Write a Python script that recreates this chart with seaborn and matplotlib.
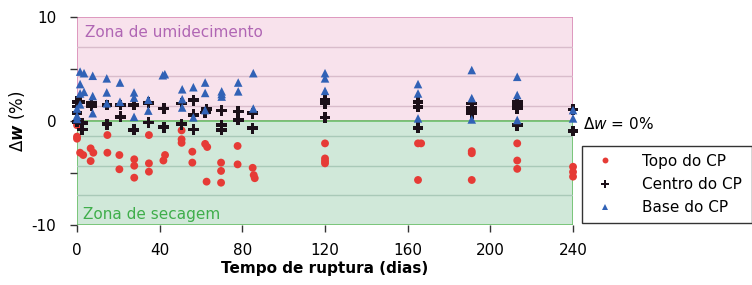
#import modules
import pandas as pd
import seaborn as sns
import matplotlib.pyplot as plt
from matplotlib.patches import Rectangle

#data: (day, delta w %) per position in the specimen
topo_dias = [0, 0, 0, 1.5, 3, 6.6, 6.6, 7.9, 14.7, 14.7, 20.5, 20.5, 27.7, 27.7, 27.7,
             34.8, 34.8, 34.8, 41.8, 42.6, 50.6, 50.6, 50.6, 55.8, 55.8, 62, 63, 62.7,
             69.7, 69.7, 69.7, 77.7, 77.7, 85, 85.5, 86, 120, 120, 120, 120,
             165, 166.5, 165, 191, 191, 191, 213, 213, 213, 240, 240, 240]
topo_w = [-0.4, -1.5, -1.7, -3.05, -3.27, -2.63, -3.85, -3.05, -1.35, -3.05, -3.27, -4.64,
          -3.68, -4.3, -5.45, -1.35, -4.07, -4.87, -3.8, -3.27, -0.9, -1.76, -2.1, -2.95,
          -4.0, -2.2, -2.5, -5.83, -4.0, -4.8, -5.93, -2.4, -4.17, -4.5, -5.2, -5.5,
          -2.15, -3.6, -3.85, -4.07, -2.15, -2.15, -5.67, -2.9, -3.1, -5.67,
          -2.15, -3.8, -4.6, -4.4, -4.9, -5.35]

centro_dias = [0, 0, 0, 0, 1.5, 2.5, 2.5, 7, 7, 14.5, 14.5, 21, 21, 27.5, 27.5, 34.5, 34.5,
               42, 42, 50.6, 50.6, 56.3, 56.3, 56.3, 62, 62.7, 70, 70, 70, 78, 78, 85, 85,
               120, 120, 120, 165, 165, 165, 191, 191, 191, 191, 213, 213, 213, 213, 240, 240]
centro_w = [1.85, 1.4, 0.75, -0.1, 1.85, -0.2, -0.8, 1.75, 1.45, 1.55, -0.3, 1.55, 0.4,
            1.55, -0.85, 1.75, -0.15, 1.2, -0.6, 1.7, -0.3, 2.0, 0.6, -0.8, 0.8, 1.15,
            1.0, -0.4, -0.85, 0.9, 0.1, 0.75, -0.7, 2.0, 1.7, 0.35, 1.8, 1.35, -0.65,
            1.7, 1.3, 1.0, 0.75, 1.85, 1.5, 1.2, -0.4, 1.1, -0.95]

base_dias = [0, 0, 0, 1.5, 1.5, 1.5, 1.5, 3.4, 3.4, 7.6, 7.6, 7.6, 14.4, 14.4, 14.4,
             20.8, 20.8, 27.6, 27.6, 27.6, 34.5, 34.5, 41.5, 42.5, 50.9, 50.9, 50.9,
             56.3, 56.3, 62, 62, 62, 70, 70, 70, 78, 78, 85.3, 85.3, 120, 120, 120,
             165, 165, 165, 191, 191, 191, 213, 213, 213, 240, 240]
base_w = [1.2, 0.5, 0.2, 4.75, 3.55, 2.65, 1.6, 4.6, 2.8, 4.35, 2.4, 0.75, 4.1, 2.75, 1.7,
          3.7, 1.85, 2.75, 2.25, 0.4, 2.05, 1.0, 4.4, 4.5, 3.05, 2.1, 1.3, 3.25, 0.35,
          3.7, 2.7, 1.05, 2.85, 2.6, 2.35, 3.7, 2.85, 4.6, 1.2, 4.6, 4.1, 2.9,
          3.55, 2.65, 0.25, 4.9, 2.2, 0.15, 4.25, 2.5, 0.1, 1.05, 0.25]

series = ['Topo do CP', 'Centro do CP', 'Base do CP']
x_ticks = [0, 40, 80, 120, 160, 200, 240]

df = pd.concat([
    pd.DataFrame({'dias': topo_dias, 'dw': topo_w, 'pos': series[0]}),
    pd.DataFrame({'dias': centro_dias, 'dw': centro_w, 'pos': series[1]}),
    pd.DataFrame({'dias': base_dias, 'dw': base_w, 'pos': series[2]}),
])

#fonts / mathtext (w bold italic in the axis label)
plt.rcParams['font.family'] = 'DejaVu Sans'
plt.rcParams['mathtext.fontset'] = 'custom'
plt.rcParams['mathtext.rm'] = 'DejaVu Sans'
plt.rcParams['mathtext.it'] = 'DejaVu Sans:italic'
plt.rcParams['mathtext.bf'] = 'DejaVu Sans:bold:italic'

fig = plt.figure(figsize=(7.52, 2.85), dpi=100)
ax = fig.add_axes([0.1024, 0.2105, 0.6596, 0.7298])

#zones
ax.add_patch(Rectangle((0, 0), 240, 10, facecolor='#f8e2ec', edgecolor='#d98cb6', lw=1.2, zorder=0))
ax.add_patch(Rectangle((0, -10), 240, 10, facecolor='#d0e8d9', edgecolor='#6cc06a', lw=1.2, zorder=0.5))
for k in range(1, 4):
    g = 10 - k * 20 / 7
    ax.plot((0, 240), (g, g), color='#d9bccb', lw=1, zorder=0.6)
    ax.plot((0, 240), (-g, -g), color='#a9c9b8', lw=1, zorder=0.6)

#plotting
sns.scatterplot(data=df, x='dias', y='dw', hue='pos', style='pos', ax=ax,
                hue_order=series, style_order=series,
                palette=['#e63b36', '#1c1019', '#3162b6'],
                markers={'Topo do CP': 'o', 'Centro do CP': 'P', 'Base do CP': '^'},
                size='pos', sizes={'Topo do CP': 32, 'Centro do CP': 60, 'Base do CP': 38},
                linewidth=0, clip_on=False, zorder=3)

#plot formatting
ax.set_xlim(0, 240)
ax.set_ylim(-10, 10)
ax.set_xticks(x_ticks)
ax.set_yticks([-10, -5, 0, 5, 10])
ax.set_yticklabels(['-10', '', '0', '', '10'])
for s in ax.spines.values():
    s.set_visible(False)
ax.tick_params(axis='both', direction='out', length=5, width=1, color='#333333',
               labelsize=11, pad=8)
ax.tick_params(axis='y', pad=10)
ax.set_xlabel('Tempo de ruptura (dias)', fontsize=11, fontweight='bold', labelpad=2)
ax.set_ylabel(r'$\Delta\mathbf{w}$ (%)', fontsize=12, labelpad=3)

ax.text(4, 8.5, 'Zona de umidecimento', color='#b066b4', fontsize=11, va='center')
ax.text(3, -9.0, 'Zona de secagem', color='#3fae4b', fontsize=11, va='center')
ax.text(245, -0.3, r'$\Delta w$ = 0%', fontsize=11, va='center', ha='left', clip_on=False)

handles, labels = ax.get_legend_handles_labels()
ax.get_legend().remove()
fig.legend(handles, labels, loc='lower left', bbox_to_anchor=(0.774, 0.2175, 0.226, 0.281),
           mode='expand', frameon=True, fancybox=False, edgecolor='black', fontsize=11,
           markerscale=0.75, labelspacing=0.55, handletextpad=1.4, borderpad=0.5,
           borderaxespad=0)

#save fig as png
plt.savefig('out.png', dpi=100)
